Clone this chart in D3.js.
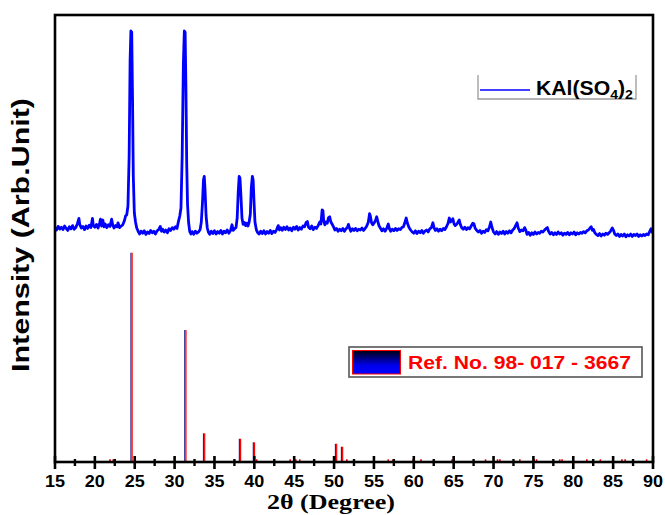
<!DOCTYPE html>
<html>
<head>
<meta charset="utf-8">
<script src="https://cdn.jsdelivr.net/npm/d3@7"></script>
<style>
  body { margin: 0; background: #fff; }
  .tick-label { font-family: "Liberation Sans", Arial, sans-serif; font-weight: bold; font-size: 16.5px; }
</style>
</head>
<body>
<div id="chart"></div>
<script>
'use strict';

// measured XRD pattern: [2theta, counts]
var patternPts = [
  [15.0,62],[15.2,50],[15.4,68],[15.6,55],[15.8,64],[16.0,52],[16.2,70],[16.4,58],[16.6,48],[16.8,66],
  [17.0,56],[17.2,72],[17.4,54],[17.6,62],[17.8,80],[18.0,108],[18.1,78],[18.3,60],[18.5,68],[18.7,52],
  [18.9,70],[19.1,58],[19.3,74],[19.5,62],[19.7,108],[19.8,72],[20.0,64],[20.2,78],[20.4,60],[20.6,86],
  [20.7,104],[20.85,70],[21.0,100],[21.15,66],[21.3,80],[21.5,62],[21.7,76],[21.9,68],[22.1,104],[22.25,74],
  [22.4,60],[22.6,72],[22.8,66],[22.9,86],[23.1,62],[23.3,70],[23.5,76],[23.7,96],[23.85,120],[24.0,126],
  [24.15,170],[24.3,420],[24.42,900],[24.52,1045],[24.62,1040],[24.72,720],[24.82,320],[24.95,135],[25.1,90],[25.25,60],
  [25.45,42],[25.6,30],[25.8,44],[26.0,34],[26.2,46],[26.4,28],[26.6,40],[26.8,32],[27.0,48],[27.2,36],
  [27.4,44],[27.6,30],[27.8,46],[28.0,52],[28.2,68],[28.35,44],[28.5,54],[28.7,40],[28.9,50],[29.1,36],
  [29.3,56],[29.5,48],[29.7,62],[29.9,54],[30.1,66],[30.3,58],[30.5,96],[30.65,120],[30.8,160],[30.95,420],
  [31.1,880],[31.22,1045],[31.32,1040],[31.42,760],[31.52,380],[31.62,180],[31.75,90],[31.9,42],[32.05,30],[32.2,42],
  [32.4,28],[32.6,44],[32.8,34],[33.0,40],[33.2,52],[33.35,90],[33.5,190],[33.62,300],[33.72,318],[33.82,250],
  [33.95,120],[34.1,60],[34.25,38],[34.4,28],[34.6,44],[34.8,32],[35.0,46],[35.2,30],[35.4,42],[35.6,34],
  [35.8,48],[36.0,30],[36.2,44],[36.4,36],[36.6,50],[36.8,34],[37.0,46],[37.2,76],[37.35,48],[37.5,56],
  [37.7,62],[37.85,110],[37.98,240],[38.1,318],[38.2,310],[38.32,220],[38.45,110],[38.6,78],[38.75,88],[38.9,72],
  [39.05,84],[39.2,70],[39.35,90],[39.5,130],[39.62,260],[39.75,318],[39.85,300],[39.95,200],[40.08,90],[40.25,52],
  [40.4,38],[40.6,30],[40.8,44],[41.0,32],[41.2,46],[41.4,30],[41.6,42],[41.8,34],[42.0,48],[42.2,32],
  [42.4,44],[42.6,38],[42.8,52],[43.0,72],[43.15,50],[43.3,62],[43.5,48],[43.7,64],[43.9,52],[44.1,66],
  [44.3,50],[44.5,60],[44.7,46],[44.9,64],[45.1,54],[45.3,68],[45.5,50],[45.7,62],[45.9,54],[46.1,70],
  [46.3,66],[46.5,88],[46.65,92],[46.8,64],[47.0,56],[47.2,70],[47.4,52],[47.6,64],[47.8,58],[48.0,72],
  [48.2,90],[48.35,80],[48.5,150],[48.6,148],[48.7,96],[48.85,76],[49.0,90],[49.15,84],[49.3,112],[49.45,116],
  [49.6,90],[49.8,76],[49.95,64],[50.1,50],[50.3,58],[50.5,44],[50.7,54],[50.9,46],[51.1,58],[51.3,44],
  [51.5,56],[51.7,66],[51.8,78],[51.95,58],[52.1,44],[52.3,56],[52.5,48],[52.7,58],[52.9,46],[53.1,54],
  [53.3,50],[53.5,60],[53.7,48],[53.9,58],[54.1,70],[54.3,90],[54.45,132],[54.55,120],[54.7,86],[54.85,76],
  [55.0,84],[55.2,98],[55.35,116],[55.5,90],[55.65,70],[55.8,60],[56.0,46],[56.2,56],[56.4,44],[56.6,58],
  [56.8,80],[56.95,56],[57.1,44],[57.3,54],[57.5,46],[57.7,58],[57.9,48],[58.1,56],[58.3,52],[58.5,62],
  [58.7,66],[58.9,90],[59.05,110],[59.2,84],[59.4,62],[59.6,50],[59.8,40],[60.0,34],[60.2,46],[60.4,32],
  [60.6,44],[60.8,36],[61.0,48],[61.2,34],[61.4,44],[61.6,50],[61.8,40],[62.0,56],[62.2,62],[62.4,86],
  [62.55,60],[62.7,48],[62.9,56],[63.1,44],[63.3,54],[63.5,46],[63.7,58],[63.9,52],[64.1,66],[64.3,84],
  [64.45,110],[64.6,90],[64.75,96],[64.9,106],[65.05,80],[65.2,72],[65.35,78],[65.5,86],[65.7,100],[65.85,76],
  [66.0,62],[66.2,54],[66.4,64],[66.6,52],[66.8,62],[67.0,56],[67.2,70],[67.4,84],[67.55,80],[67.7,58],
  [67.9,48],[68.1,40],[68.3,48],[68.5,34],[68.7,44],[68.9,38],[69.1,52],[69.3,46],[69.5,66],[69.65,90],
  [69.8,64],[70.0,40],[70.2,30],[70.4,42],[70.6,28],[70.8,40],[71.0,32],[71.2,44],[71.4,30],[71.6,42],
  [71.8,34],[72.0,46],[72.2,36],[72.4,50],[72.6,58],[72.8,74],[72.95,86],[73.1,60],[73.3,42],[73.5,50],
  [73.7,46],[73.9,62],[74.05,50],[74.2,28],[74.4,38],[74.6,24],[74.8,36],[75.0,28],[75.2,40],[75.4,30],
  [75.6,38],[75.8,34],[76.0,44],[76.2,40],[76.4,50],[76.6,58],[76.75,62],[76.9,44],[77.1,30],[77.3,38],
  [77.5,26],[77.7,36],[77.9,28],[78.1,40],[78.3,30],[78.5,36],[78.7,24],[78.9,34],[79.1,28],[79.3,38],
  [79.5,26],[79.7,36],[79.9,30],[80.1,40],[80.3,26],[80.5,36],[80.7,30],[80.9,38],[81.1,34],[81.3,42],
  [81.5,36],[81.7,46],[81.9,50],[82.1,60],[82.25,66],[82.4,48],[82.55,52],[82.7,36],[82.9,28],[83.1,22],
  [83.3,32],[83.5,20],[83.7,30],[83.9,24],[84.1,34],[84.3,28],[84.5,36],[84.7,46],[84.9,60],[85.05,48],
  [85.2,30],[85.4,22],[85.6,30],[85.8,18],[86.0,28],[86.2,20],[86.4,30],[86.6,16],[86.8,26],[87.0,20],
  [87.2,30],[87.4,18],[87.6,28],[87.8,22],[88.0,30],[88.2,18],[88.4,26],[88.6,20],[88.8,28],[89.0,22],
  [89.2,30],[89.4,26],[89.6,44],[89.75,56],[89.9,40],[90.0,34]
];

// reference card 98-017-3667 : positions and relative intensity
var refAngles = [24.6, 31.35, 33.7, 38.2, 39.95, 50.25, 51.0];
var refIntensity = [100, 63.1, 13.7, 11.1, 9.4, 8.7, 7.3];
// very weak reference lines, only visible as dots on the axis
var weakAngles = [21.9, 22.3, 40.3, 44.5, 45.2, 45.7, 50.2, 51.6, 56.8, 57.4, 59.9, 60.9, 64.8, 69.0, 70.5, 70.8, 73.3, 75.1, 75.4, 78.3, 78.6, 81.7, 83.4, 86.1, 86.5, 89.2];
var weakIntensity = 0.8;

var xTicks = [15, 20, 25, 30, 35, 40, 45, 50, 55, 60, 65, 70, 75, 80, 85, 90];
var xMinorTicks = [17.5, 22.5, 27.5, 32.5, 37.5, 42.5, 47.5, 52.5, 57.5, 62.5, 67.5, 72.5, 77.5, 82.5, 87.5];

var width = 665, height = 515;
var margin = { top: 15, right: 12, bottom: 53, left: 55 };
var plotW = width - margin.left - margin.right,
    plotH = height - margin.top - margin.bottom;

var svg = d3.select("#chart").append("svg")
    .attr("width", width)
    .attr("height", height);

var defs = svg.append("defs");
var grad = defs.append("linearGradient")
    .attr("id", "refGrad")
    .attr("x1", 0).attr("y1", 0).attr("x2", 0).attr("y2", 1);
grad.append("stop").attr("offset", "0%").attr("stop-color", "#000010");
grad.append("stop").attr("offset", "65%").attr("stop-color", "#0000f0");
grad.append("stop").attr("offset", "100%").attr("stop-color", "#0000ff");

var g = svg.append("g")
    .attr("transform", "translate(" + margin.left + "," + margin.top + ")");

var xScale = d3.scaleLinear()
    .domain([15, 90])
    .range([0, plotW]);

// upper pattern sits in the top half, reference sticks grow from the axis
var yPattern = d3.scaleLinear()
    .domain([0, 1000])
    .range([225, 25]);

var yRef = d3.scaleLinear()
    .domain([0, 100])
    .range([plotH, plotH - 209.3]);

// reference sticks
var sticks = g.selectAll(".ref")
    .data(refAngles.map(function(a, i){ return { a: a, v: refIntensity[i] }; }))
    .enter().append("g")
    .attr("class", "ref");
sticks.append("line")
    .attr("x1", function(d){ return xScale(d.a) - 0.6 })
    .attr("x2", function(d){ return xScale(d.a) - 0.6 })
    .attr("y1", plotH)
    .attr("y2", function(d){ return yRef(d.v) })
    .attr("stroke", "#23238f")
    .attr("stroke-width", 1.2);
sticks.append("line")
    .attr("x1", function(d){ return xScale(d.a) + 0.6 })
    .attr("x2", function(d){ return xScale(d.a) + 0.6 })
    .attr("y1", plotH)
    .attr("y2", function(d){ return yRef(d.v) })
    .attr("stroke", "#ff0000")
    .attr("stroke-width", 1.2);

g.selectAll(".weak")
    .data(weakAngles)
    .enter().append("line")
    .attr("class", "weak")
    .attr("x1", function(d){ return xScale(d) })
    .attr("x2", function(d){ return xScale(d) })
    .attr("y1", plotH + 1)
    .attr("y2", yRef(weakIntensity) - 1)
    .attr("stroke", "#e00000")
    .attr("stroke-width", 1.6);

// measured pattern
var line = d3.line()
    .x(function(d){ return xScale(d[0]) })
    .y(function(d){ return yPattern(d[1]) });

g.append("path")
    .datum(patternPts)
    .attr("d", line)
    .attr("fill", "none")
    .attr("stroke", "#0000ff")
    .attr("stroke-width", 2.8)
    .attr("stroke-linejoin", "round");

// frame
g.append("rect")
    .attr("x", 0).attr("y", 0)
    .attr("width", plotW).attr("height", plotH)
    .attr("fill", "none")
    .attr("stroke", "#000")
    .attr("stroke-width", 2.6);

// x axis: major ticks cross the axis, minor ones are short
var xAxis = g.append("g").attr("class", "Xaxis")
    .attr("transform", "translate(0," + plotH + ")");
xAxis.selectAll(".major")
    .data(xTicks)
    .enter().append("line")
    .attr("x1", function(d){ return xScale(d) })
    .attr("x2", function(d){ return xScale(d) })
    .attr("y1", -6).attr("y2", 7)
    .attr("stroke", "#000").attr("stroke-width", 2.6);
xAxis.selectAll(".minor")
    .data(xMinorTicks)
    .enter().append("line")
    .attr("x1", function(d){ return xScale(d) })
    .attr("x2", function(d){ return xScale(d) })
    .attr("y1", -3).attr("y2", 4)
    .attr("stroke", "#000").attr("stroke-width", 2.4);
xAxis.selectAll(".tick-label")
    .data(xTicks)
    .enter().append("text")
    .attr("class", "tick-label")
    .attr("x", function(d){ return xScale(d) })
    .attr("y", 25)
    .attr("text-anchor", "middle")
    .attr("textLength", 20)
    .attr("lengthAdjust", "spacingAndGlyphs")
    .text(function(d){ return d });

svg.append("text")
    .attr("x", 331)
    .attr("y", 509)
    .attr("text-anchor", "middle")
    .attr("textLength", 128)
    .attr("lengthAdjust", "spacingAndGlyphs")
    .style("font-family", "'Liberation Serif', 'Times New Roman', serif")
    .style("font-weight", "bold")
    .style("font-size", "21px")
    .text("2\u03B8 (Degree)");

svg.append("text")
    .attr("transform", "translate(29,235) rotate(-90)")
    .attr("text-anchor", "middle")
    .attr("textLength", 274)
    .attr("lengthAdjust", "spacingAndGlyphs")
    .style("font-family", "'Liberation Sans', Arial, sans-serif")
    .style("font-weight", "bold")
    .style("font-size", "23px")
    .text("Intensity (Arb.Unit)");

// legend for the measured pattern
var leg1 = svg.append("g").attr("transform", "translate(478,75)");
leg1.append("path")
    .attr("d", "M0,0V24H158V0")
    .attr("fill", "none")
    .attr("stroke", "#9a9a9a")
    .attr("stroke-width", 1.3);
leg1.append("line")
    .attr("x1", 2).attr("x2", 52)
    .attr("y1", 15).attr("y2", 15)
    .attr("stroke", "#0000ff").attr("stroke-width", 1.6);
var t1 = leg1.append("text")
    .attr("x", 58).attr("y", 20)
    .attr("textLength", 97)
    .attr("lengthAdjust", "spacingAndGlyphs")
    .style("font-family", "'Liberation Sans', Arial, sans-serif")
    .style("font-weight", "bold")
    .style("font-size", "19.5px");
t1.append("tspan").text("KAl(SO");
t1.append("tspan").attr("dy", 4).style("font-size", "13px").text("4");
t1.append("tspan").attr("dy", -4).text(")");
t1.append("tspan").attr("dy", 4).style("font-size", "13px").text("2");

// legend for the reference card
var leg2 = svg.append("g").attr("transform", "translate(349,347)");
leg2.append("rect")
    .attr("width", 293).attr("height", 30)
    .attr("fill", "#fff")
    .attr("stroke", "#555")
    .attr("stroke-width", 1.6);
leg2.append("rect")
    .attr("x", 3.5).attr("y", 3.5)
    .attr("width", 48).attr("height", 23.5)
    .attr("fill", "url(#refGrad)")
    .attr("stroke", "#ff0000")
    .attr("stroke-width", 1);
leg2.append("text")
    .attr("x", 59).attr("y", 21.5)
    .attr("fill", "#ff0000")
    .attr("textLength", 223)
    .attr("lengthAdjust", "spacingAndGlyphs")
    .style("font-family", "'Liberation Sans', Arial, sans-serif")
    .style("font-weight", "bold")
    .style("font-size", "19px")
    .text("Ref. No. 98- 017 - 3667");
</script>
</body>
</html>
